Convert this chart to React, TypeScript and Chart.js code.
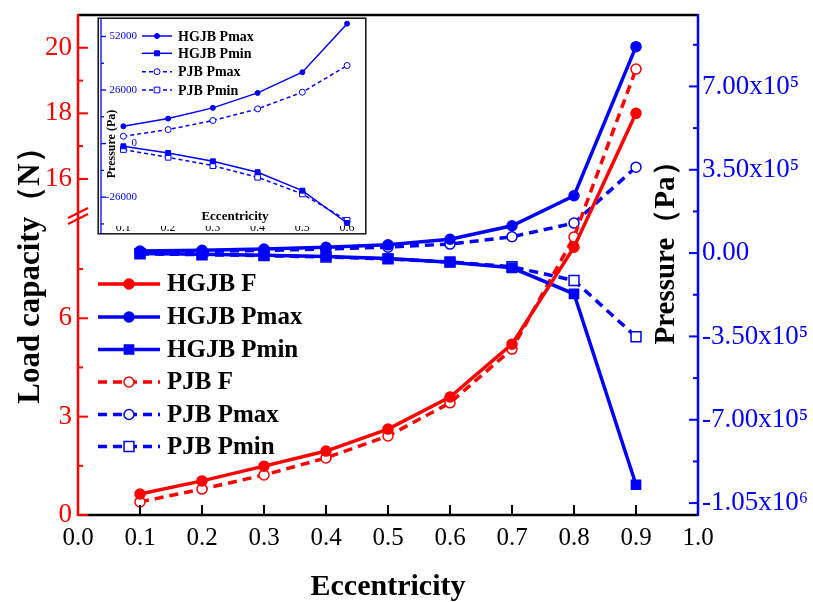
import React, { useEffect, useRef } from 'react';
import { Chart, registerables } from 'chart.js';
Chart.register(...registerables);

// ---------- data ----------
const ECC = [0.1, 0.2, 0.3, 0.4, 0.5, 0.6, 0.7, 0.8, 0.9];
const HGJB_F = [0.64, 1.04, 1.49, 1.95, 2.62, 3.6, 5.21, 8.17, 18.0];
const PJB_F = [0.4, 0.79, 1.22, 1.74, 2.41, 3.42, 5.06, 8.48, 19.35];
const HGJB_PMAX = [8400, 12150, 17350, 24600, 34650, 58200, 114700, 240700, 867000];
const PJB_PMAX = [3550, 6800, 11200, 16850, 24950, 37900, 68500, 126000, 361000];
const HGJB_PMIN = [-1300, -4550, -8600, -13900, -22850, -38550, -61700, -171000, -973000];
const PJB_PMIN = [-2900, -6650, -10700, -16350, -24450, -37250, -57500, -115000, -351500];

const INSET_ECC = [0.1, 0.2, 0.3, 0.4, 0.5, 0.6];
const INSET_HGJB_PMAX = [8400, 12150, 17350, 24600, 34650, 58200];
const INSET_HGJB_PMIN = [-1300, -4550, -8600, -13900, -22850, -38550];
const INSET_PJB_PMAX = [3550, 6800, 11200, 16850, 24950, 37900];
const INSET_PJB_PMIN = [-2900, -6650, -10700, -16350, -24450, -37250];

const X_TICKS = [0, 0.1, 0.2, 0.3, 0.4, 0.5, 0.6, 0.7, 0.8, 0.9, 1.0];
const LEFT_TICKS = [0, 3, 6, 16, 18, 20];
const LEFT_MINOR = [1.5, 4.5, 7.5, 17, 19];
const RIGHT_TICKS = [-1050000, -700000, -350000, 0, 350000, 700000];
const RIGHT_TICK_LABELS = ['-1.05x10\u2076', '-7.00x10\u2075', '-3.50x10\u2075', '0.00', '3.50x10\u2075', '7.00x10\u2075'];
const RIGHT_MINOR = [-875000, -525000, -175000, 175000, 525000, 875000];
const INSET_X_TICKS = [0.1, 0.2, 0.3, 0.4, 0.5, 0.6];
const INSET_Y_TICKS = [-26000, 0, 26000, 52000];
const INSET_Y_MINOR = [-39000, -13000, 13000, 39000];

// axis break on the load axis: values above the gap are shifted down
const BREAK_SHIFT = 5.75;
const BREAK_AT = 12;
const BREAK_MARK = 9.12; // display position of the break symbol
const toDisplay = (v: number) => (v > BREAK_AT ? v - BREAK_SHIFT : v);
const fromDisplay = (d: number) => (d > BREAK_AT - BREAK_SHIFT ? d + BREAK_SHIFT : d);

const FONT = '"Liberation Serif", "Times New Roman", serif';
const RED = '#ff0000';
const BLUE = '#0000ff';

function drawMarker(ctx: CanvasRenderingContext2D, style: string, x: number, y: number, r: number, fill: string, stroke: string, lw: number) {
  ctx.save();
  ctx.setLineDash([]);
  ctx.beginPath();
  if (style === 'rect') {
    const s = r * Math.SQRT1_2;
    ctx.rect(x - s, y - s, 2 * s, 2 * s);
  } else {
    ctx.arc(x, y, r, 0, Math.PI * 2);
  }
  ctx.fillStyle = fill;
  ctx.fill();
  ctx.lineWidth = lw;
  ctx.strokeStyle = stroke;
  ctx.stroke();
  ctx.restore();
}

function line(ctx: CanvasRenderingContext2D, x1: number, y1: number, x2: number, y2: number) {
  ctx.beginPath();
  ctx.moveTo(x1, y1);
  ctx.lineTo(x2, y2);
  ctx.stroke();
}

function vText(ctx: CanvasRenderingContext2D, text: string, x: number, y: number, font: string) {
  ctx.save();
  ctx.fillStyle = '#000';
  ctx.font = font;
  ctx.textAlign = 'center';
  ctx.textBaseline = 'middle';
  ctx.translate(x, y);
  ctx.rotate(-Math.PI / 2);
  ctx.fillText(text, 0, 0);
  ctx.restore();
}

function drawLegend(ctx: CanvasRenderingContext2D, chart: any, x1: number, x2: number, tx: number, ys: number[], font: string, lw: number) {
  chart.data.datasets.forEach((ds: any, i: number) => {
    const y = ys[i];
    ctx.save();
    ctx.strokeStyle = ds.borderColor;
    ctx.lineWidth = lw;
    ctx.setLineDash(ds.borderDash || []);
    line(ctx, x1, y, x2, y);
    ctx.restore();
    drawMarker(ctx, ds.pointStyle, (x1 + x2) / 2, y, ds.pointRadius, ds.pointBackgroundColor, ds.pointBorderColor, ds.pointBorderWidth);
    ctx.save();
    ctx.fillStyle = '#000';
    ctx.font = font;
    ctx.textAlign = 'left';
    ctx.textBaseline = 'middle';
    ctx.fillText(ds.label, tx, y + 1);
    ctx.restore();
  });
}

const noPad = (s: any) => {
  s.paddingTop = 0;
  s.paddingBottom = 0;
  s.paddingLeft = 0;
  s.paddingRight = 0;
};

const mainDecor = {
  id: 'mainDecor',
  afterDatasetsDraw(chart: any) {
    const { ctx, chartArea: a, scales } = chart;
    const xs = scales.x, yL = scales.yL, yR = scales.yR;
    ctx.save();
    ctx.lineCap = 'butt';
    // frame top + bottom axis
    ctx.strokeStyle = '#000';
    ctx.lineWidth = 2.5;
    line(ctx, a.left, a.top, a.right, a.top);
    line(ctx, a.left, a.bottom, a.right, a.bottom);
    ctx.lineWidth = 2;
    X_TICKS.forEach((t) => {
      const px = xs.getPixelForValue(t);
      line(ctx, px, a.bottom, px, a.bottom - 10);
    });
    // left axis
    ctx.strokeStyle = RED;
    ctx.lineWidth = 2.5;
    line(ctx, a.left, a.top - 1, a.left, a.bottom + 1);
    ctx.lineWidth = 2;
    LEFT_TICKS.forEach((t) => {
      const py = yL.getPixelForValue(toDisplay(t));
      line(ctx, a.left, py, a.left + 10, py);
    });
    LEFT_MINOR.forEach((t) => {
      const py = yL.getPixelForValue(toDisplay(t));
      line(ctx, a.left, py, a.left + 5, py);
    });
    // break marks
    const by = yL.getPixelForValue(BREAK_MARK);
    ctx.lineWidth = 2;
    line(ctx, a.left - 10, by + 2, a.left + 10, by - 8);
    line(ctx, a.left - 10, by + 8, a.left + 10, by - 2);
    // right axis
    ctx.strokeStyle = BLUE;
    ctx.lineWidth = 2.5;
    line(ctx, a.right, a.top - 1, a.right, a.bottom + 1);
    ctx.lineWidth = 2;
    RIGHT_TICKS.forEach((t) => {
      const py = yR.getPixelForValue(t);
      line(ctx, a.right, py, a.right - 9, py);
    });
    RIGHT_MINOR.forEach((t) => {
      const py = yR.getPixelForValue(t);
      line(ctx, a.right, py, a.right - 5, py);
    });
    ctx.restore();
    // legend
    const ys = [284, 317, 349.5, 382, 414.5, 446.5];
    drawLegend(ctx, chart, 98, 160, 167, ys, 'bold 25px ' + FONT, 3.5);
    // axis titles
    vText(ctx, 'Load capacity\uFF08N\uFF09', 31, 268, 'bold 31px ' + FONT);
    vText(ctx, 'Pressure\uFF08Pa\uFF09', 667, 246, 'bold 29px ' + FONT);
  },
};

const insetDecor = {
  id: 'insetDecor',
  beforeDraw(chart: any) {
    const { ctx, width, height } = chart;
    ctx.save();
    ctx.fillStyle = '#fff';
    ctx.fillRect(0, 0, width, height);
    ctx.restore();
  },
  afterDatasetsDraw(chart: any) {
    const { ctx, chartArea: a, scales, width, height } = chart;
    const ys = scales.y;
    ctx.save();
    // frame
    ctx.strokeStyle = '#111';
    ctx.lineWidth = 1.5;
    ctx.strokeRect(1.2, 1.2, width - 2.4, height - 2.4);
    // blue y axis
    ctx.strokeStyle = BLUE;
    ctx.lineWidth = 1.3;
    line(ctx, a.left, 1, a.left, height - 1);
    INSET_Y_TICKS.forEach((t) => {
      const py = ys.getPixelForValue(t);
      line(ctx, a.left, py, a.left + 5, py);
    });
    INSET_Y_MINOR.forEach((t) => {
      const py = ys.getPixelForValue(t);
      line(ctx, a.left, py, a.left + 3, py);
    });
    ctx.fillStyle = BLUE;
    ctx.font = '11px ' + FONT;
    ctx.textAlign = 'right';
    ctx.textBaseline = 'middle';
    INSET_Y_TICKS.forEach((t) => {
      ctx.fillText(String(t), 40, ys.getPixelForValue(t));
    });
    ctx.restore();
    // legend
    drawLegend(ctx, chart, 45, 75, 81, [19, 36.3, 54.7, 73], 'bold 14px ' + FONT, 1.5);
    // titles
    ctx.save();
    ctx.fillStyle = '#000';
    ctx.font = 'bold 13px ' + FONT;
    ctx.textAlign = 'center';
    ctx.textBaseline = 'middle';
    ctx.fillText('Eccentricity', 138, 200);
    ctx.restore();
    vText(ctx, 'Pressure (Pa)', 15, 127, 'bold 12px ' + FONT);
  },
};

function mainConfig(): any {
  const pts = (ys: number[], f: (v: number) => number = (v) => v) => ECC.map((x, i) => ({ x, y: f(ys[i]) }));
  const common = { borderWidth: 3.5, pointBorderWidth: 1.5, pointHoverRadius: 5, tension: 0 };
  return {
    type: 'line',
    data: {
      datasets: [
        { ...common, label: 'HGJB F', data: pts(HGJB_F, toDisplay), yAxisID: 'yL', borderColor: RED, backgroundColor: RED, pointStyle: 'circle', pointRadius: 5, pointBackgroundColor: RED, pointBorderColor: RED, borderDash: [] },
        { ...common, label: 'HGJB Pmax', data: pts(HGJB_PMAX), yAxisID: 'yR', borderColor: BLUE, backgroundColor: BLUE, pointStyle: 'circle', pointRadius: 5, pointBackgroundColor: BLUE, pointBorderColor: BLUE, borderDash: [] },
        { ...common, label: 'HGJB Pmin', data: pts(HGJB_PMIN), yAxisID: 'yR', borderColor: BLUE, backgroundColor: BLUE, pointStyle: 'rect', pointRadius: 6.5, pointBackgroundColor: BLUE, pointBorderColor: BLUE, borderDash: [] },
        { ...common, label: 'PJB F', data: pts(PJB_F, toDisplay), yAxisID: 'yL', borderColor: RED, backgroundColor: '#fff', pointStyle: 'circle', pointRadius: 5, pointBackgroundColor: '#fff', pointBorderColor: RED, borderDash: [9, 6] },
        { ...common, label: 'PJB Pmax', data: pts(PJB_PMAX), yAxisID: 'yR', borderColor: BLUE, backgroundColor: '#fff', pointStyle: 'circle', pointRadius: 5, pointBackgroundColor: '#fff', pointBorderColor: BLUE, borderDash: [9, 6] },
        { ...common, label: 'PJB Pmin', data: pts(PJB_PMIN), yAxisID: 'yR', borderColor: BLUE, backgroundColor: '#fff', pointStyle: 'rect', pointRadius: 7, pointBackgroundColor: '#fff', pointBorderColor: BLUE, borderDash: [9, 6] },
      ],
    },
    options: {
      responsive: false,
      animation: false,
      devicePixelRatio: 1,
      layout: { padding: { top: 15, left: 0, right: 0, bottom: 0 }, autoPadding: false },
      plugins: { legend: { display: false }, tooltip: { enabled: false } },
      scales: {
        x: {
          type: 'linear', position: 'bottom', min: 0, max: 1,
          afterBuildTicks: (s: any) => { s.ticks = X_TICKS.map((v) => ({ value: v })); },
          afterFit: (s: any) => { s.height = 87; noPad(s); },
          grid: { display: false, drawTicks: false },
          border: { display: false },
          ticks: { autoSkip: false, maxRotation: 0, padding: 8, color: '#000', font: { family: FONT, size: 25 }, callback: (v: number) => v.toFixed(1) },
          title: { display: true, text: 'Eccentricity', color: '#000', font: { family: FONT, size: 30, weight: 'bold', lineHeight: 1 }, padding: { top: 0, bottom: 0 } },
        },
        yL: {
          type: 'linear', position: 'left', min: 0, max: 15.25,
          afterBuildTicks: (s: any) => { s.ticks = LEFT_TICKS.map((v) => ({ value: toDisplay(v) })); },
          afterFit: (s: any) => { s.width = 78; noPad(s); },
          grid: { display: false, drawTicks: false },
          border: { display: false },
          ticks: { autoSkip: false, padding: 6, color: RED, font: { family: FONT, size: 27, lineHeight: 1 }, callback: (v: number) => String(Math.round(fromDisplay(v))) },
        },
        yR: {
          type: 'linear', position: 'right', min: -1100000, max: 1000000,
          afterBuildTicks: (s: any) => { s.ticks = RIGHT_TICKS.map((v) => ({ value: v })); },
          afterFit: (s: any) => { s.width = 115; noPad(s); },
          grid: { display: false, drawTicks: false },
          border: { display: false },
          ticks: { autoSkip: false, padding: 4, color: BLUE, font: { family: FONT, size: 27, lineHeight: 1 }, callback: (_v: number, i: number) => RIGHT_TICK_LABELS[i] },
        },
      },
    },
    plugins: [mainDecor],
  };
}

function insetConfig(): any {
  const pts = (ys: number[]) => INSET_ECC.map((x, i) => ({ x, y: ys[i] }));
  const common = { borderWidth: 1.5, pointBorderWidth: 1, tension: 0 };
  return {
    type: 'line',
    data: {
      datasets: [
        { ...common, label: 'HGJB Pmax', data: pts(INSET_HGJB_PMAX), borderColor: BLUE, pointStyle: 'circle', pointRadius: 2.5, pointBackgroundColor: BLUE, pointBorderColor: BLUE, borderDash: [] },
        { ...common, label: 'HGJB Pmin', data: pts(INSET_HGJB_PMIN), borderColor: BLUE, pointStyle: 'rect', pointRadius: 3.5, pointBackgroundColor: BLUE, pointBorderColor: BLUE, borderDash: [] },
        { ...common, label: 'PJB Pmax', data: pts(INSET_PJB_PMAX), borderColor: BLUE, pointStyle: 'circle', pointRadius: 3, pointBackgroundColor: '#fff', pointBorderColor: BLUE, borderDash: [4, 3] },
        { ...common, label: 'PJB Pmin', data: pts(INSET_PJB_PMIN), borderColor: BLUE, pointStyle: 'rect', pointRadius: 4, pointBackgroundColor: '#fff', pointBorderColor: BLUE, borderDash: [4, 3] },
      ],
    },
    options: {
      responsive: false,
      animation: false,
      devicePixelRatio: 1,
      layout: { padding: { top: 3, left: 0, right: 2, bottom: 0 }, autoPadding: false },
      plugins: { legend: { display: false }, tooltip: { enabled: false } },
      scales: {
        x: {
          type: 'linear', position: 'bottom', min: 0.05, max: 0.64,
          afterBuildTicks: (s: any) => { s.ticks = INSET_X_TICKS.map((v) => ({ value: v })); },
          afterFit: (s: any) => { s.height = 9; noPad(s); },
          grid: { display: false, drawTicks: false },
          border: { display: false },
          ticks: { autoSkip: false, maxRotation: 0, padding: -4, color: '#000', font: { family: FONT, size: 12, lineHeight: 1 }, callback: (v: number) => v.toFixed(1) },
        },
        y: {
          type: 'linear', position: 'left', min: -40000, max: 60000,
          afterFit: (s: any) => { s.width = 4; noPad(s); },
          grid: { display: false, drawTicks: false },
          border: { display: false },
          ticks: { display: false },
        },
      },
    },
    plugins: [insetDecor],
  };
}

export default function App() {
  const mainRef = useRef<HTMLCanvasElement>(null);
  const insetRef = useRef<HTMLCanvasElement>(null);
  useEffect(() => {
    Chart.defaults.font.family = FONT;
    const c1 = new Chart(mainRef.current as HTMLCanvasElement, mainConfig());
    const c2 = new Chart(insetRef.current as HTMLCanvasElement, insetConfig());
    return () => {
      c1.destroy();
      c2.destroy();
    };
  }, []);
  return (
    <div style={{ position: 'absolute', left: 0, top: 0, width: 813, height: 602, background: '#fff', overflow: 'hidden' }}>
      <canvas ref={mainRef} width={813} height={602} style={{ position: 'absolute', left: 0, top: 0, width: 813, height: 602 }} />
      <canvas ref={insetRef} width={270} height={218} style={{ position: 'absolute', left: 97, top: 17, width: 270, height: 218 }} />
    </div>
  );
}
